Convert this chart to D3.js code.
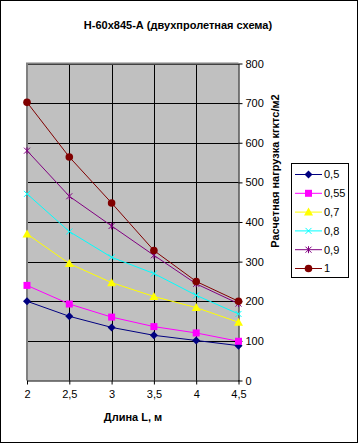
<!DOCTYPE html>
<html><head><meta charset="utf-8">
<script src="https://cdn.jsdelivr.net/npm/d3@7"></script>
<style>body{margin:0;background:#fff}svg{display:block;font-family:"Liberation Sans",Arial,sans-serif}</style>
</head><body><svg id="c" width="359" height="444"></svg>
<script>
const lengths = [2, 2.5, 3, 3.5, 4, 4.5];
const seriesNames = ["0,5", "0,55", "0,7", "0,8", "0,9", "1"];
const s05  = [200, 162, 134, 114, 101, 88];
const s055 = [240, 193, 160, 136, 120, 99];
const s07  = [370, 295, 247, 212, 184, 147];
const s08  = [471, 376, 311, 270, 215, 168];
const s09  = [580, 465, 390, 316, 244, 194];
const s1   = [702, 564, 448, 328, 250, 200];
const xTicks = [2, 2.5, 3, 3.5, 4, 4.5];
const yTicks = [0, 100, 200, 300, 400, 500, 600, 700, 800];
const colors = ["#000080", "#FF00FF", "#FFFF00", "#00FFFF", "#800080", "#800000"];
const markers = ["diamond", "square", "triangle", "x", "star", "circle"];
const allSeries = [s05, s055, s07, s08, s09, s1];

const svg = d3.select("#c");
const fmt = d => String(d).replace(".", ",");
svg.append("rect").attr("x",0.5).attr("y",0.5).attr("width",357).attr("height",442).attr("fill","#fff").attr("stroke","#000");

const L = 27, R = 238.5, T = 63.5, B = 380.5;
const x = d3.scaleLinear().domain([2, 4.5]).range([L, R]);
const y = d3.scaleLinear().domain([0, 800]).range([B, T]);

svg.append("rect").attr("x",L).attr("y",T).attr("width",R-L).attr("height",B-T).attr("fill","#C0C0C0");
// grid
svg.append("g").selectAll("line").data(yTicks.slice(1)).join("line")
  .attr("x1",L).attr("x2",R).attr("y1",d=>Math.round(y(d))+0.5).attr("y2",d=>Math.round(y(d))+0.5).attr("stroke","#000");
svg.append("g").selectAll("line").data(xTicks.slice(1,-1)).join("line")
  .attr("y1",T).attr("y2",B).attr("x1",d=>Math.round(x(d))+0.5).attr("x2",d=>Math.round(x(d))+0.5).attr("stroke","#000");
// plot border left/top gray
svg.append("path").attr("d",`M${L},${B}V${T}H${R}`).attr("fill","none").attr("stroke","#808080").attr("stroke-width",2);

// axes
const xa = svg.append("g").attr("transform",`translate(0,${B})`).call(d3.axisBottom(x).tickValues(xTicks).tickFormat(fmt).tickSize(4).tickSizeOuter(0));
const ya = svg.append("g").attr("transform",`translate(${R},0)`).call(d3.axisRight(y).tickValues(yTicks).tickSize(4).tickSizeOuter(0));
[xa, ya].forEach(a => { a.select(".domain").attr("stroke","#000"); a.selectAll(".tick line").attr("stroke","#000");
  a.selectAll("text").attr("font-size",11).attr("fill","#000").attr("font-family","Liberation Sans, Arial, sans-serif"); });
xa.selectAll("text").attr("dy","0.71em").attr("y",10);
ya.selectAll("text").attr("x",7);

// titles
svg.append("text").attr("x",178).attr("y",29).attr("text-anchor","middle").attr("font-size",11).attr("font-weight","bold").text("Н-60x845-А (двухпролетная схема)");
svg.append("text").attr("x",133).attr("y",421).attr("text-anchor","middle").attr("font-size",11).attr("font-weight","bold").text("Длина L, м");
svg.append("text").attr("transform","translate(279,171) rotate(-90)").attr("text-anchor","middle").attr("font-size",11).attr("font-weight","bold").text("Расчетная нагрузка кгктс/м2");

function drawMarker(g, type, cx, cy, color) {
  if (type === "diamond") g.append("path").attr("d",`M${cx},${cy-4}L${cx+4},${cy}L${cx},${cy+4}L${cx-4},${cy}Z`).attr("fill",color);
  else if (type === "square") g.append("rect").attr("x",cx-3.5).attr("y",cy-3.5).attr("width",7).attr("height",7).attr("fill",color);
  else if (type === "triangle") g.append("path").attr("d",`M${cx},${cy-4.5}L${cx+4.5},${cy+3.5}L${cx-4.5},${cy+3.5}Z`).attr("fill",color);
  else if (type === "x") g.append("path").attr("d",`M${cx-3},${cy-3}L${cx+3},${cy+3}M${cx-3},${cy+3}L${cx+3},${cy-3}`).attr("stroke",color).attr("stroke-width",1);
  else if (type === "star") g.append("path").attr("d",`M${cx-3},${cy-3}L${cx+3},${cy+3}M${cx-3},${cy+3}L${cx+3},${cy-3}M${cx},${cy-3.5}V${cy+3.5}`).attr("stroke",color).attr("stroke-width",1);
  else if (type === "circle") g.append("circle").attr("cx",cx).attr("cy",cy).attr("r",3.8).attr("fill",color);
}

const line = d3.line().x((d,i)=>x(lengths[i])).y(d=>y(d));
allSeries.forEach((s, k) => {
  const g = svg.append("g");
  g.append("path").attr("d", line(s)).attr("fill","none").attr("stroke",colors[k]).attr("stroke-width",1);
  s.forEach((v,i) => drawMarker(g, markers[k], x(lengths[i]), y(v), colors[k]));
});

// legend
const lg = svg.append("g");
lg.append("rect").attr("x",291.5).attr("y",163.5).attr("width",57).attr("height",114).attr("fill","#fff").attr("stroke","#000");
seriesNames.forEach((n, k) => {
  const cy = 174.5 + k * 18.8;
  lg.append("line").attr("x1",295).attr("x2",322).attr("y1",cy).attr("y2",cy).attr("stroke",colors[k]);
  drawMarker(lg, markers[k], 308.5, cy, colors[k]);
  lg.append("text").attr("x",324).attr("y",cy).attr("dy","0.35em").attr("font-size",11).text(n);
});
</script></body></html>
